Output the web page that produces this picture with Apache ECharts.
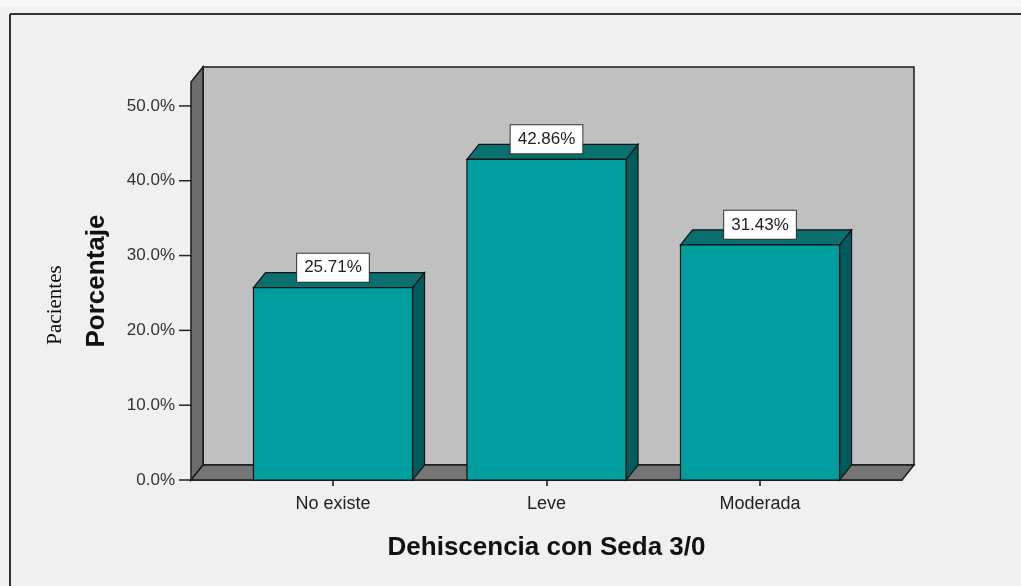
<!DOCTYPE html>
<html>
<head>
<meta charset="utf-8">
<script src="https://cdn.jsdelivr.net/npm/echarts@6/dist/echarts.min.js"></script>
<style>
html,body{margin:0;padding:0;background:#f0f0f0;}
#c{width:1021px;height:586px;}
</style>
</head>
<body>
<div id="c"></div>
<script>
const categories = ['No existe', 'Leve', 'Moderada'];
const values = [25.71, 42.86, 31.43];
const yTicks = [0, 10, 20, 30, 40, 50];
const xTitle = 'Dehiscencia con Seda 3/0';
const yTitle = 'Porcentaje';
const yTitle2 = 'Pacientes';

const DX = 12, DY = -15;
const HALF = 0.3725;
const XMIN = -0.665, XMAX = 2.665, YMAX = 53.2;
const FONT = 'Arial, "Liberation Sans", sans-serif';

const chart = echarts.init(document.getElementById('c'), null, {renderer: 'canvas'});

function wallsRender(params, api) {
  const a = api.coord([XMIN, 0]);
  const b = api.coord([XMAX, YMAX]);
  const x0 = a[0], y0 = a[1], x1 = b[0], y1 = b[1];
  const stroke = {stroke: '#1a1a1a', lineWidth: 1.5};
  const children = [
    {type: 'polygon', shape: {points: [[x0+DX, y1+DY], [x1+DX, y1+DY], [x1+DX, y0+DY], [x0+DX, y0+DY]]},
      style: Object.assign({fill: '#c0c0c0'}, stroke)},
    {type: 'polygon', shape: {points: [[x0, y1], [x0+DX, y1+DY], [x0+DX, y0+DY], [x0, y0]]},
      style: Object.assign({fill: '#6e6e6e'}, stroke)},
    {type: 'polygon', shape: {points: [[x0, y0], [x0+DX, y0+DY], [x1+DX, y0+DY], [x1, y0]]},
      style: Object.assign({fill: '#757575'}, stroke)}
  ];
  yTicks.forEach(t => {
    const p = api.coord([XMIN, t]);
    children.push({type: 'line', shape: {x1: p[0] - 12, y1: p[1], x2: p[0], y2: p[1]},
      style: {stroke: '#222', lineWidth: 1.5}});
  });
  return {type: 'group', children};
}

function barRender(params, api) {
  const i = api.value(0), v = api.value(1);
  const tl = api.coord([i - HALF, v]);
  const br = api.coord([i + HALF, 0]);
  const xl = tl[0], yt = tl[1], xr = br[0], yb = br[1];
  const stroke = {stroke: '#111', lineWidth: 1.2};
  return {
    type: 'group',
    children: [
      {type: 'polygon', shape: {points: [[xr, yt], [xr+DX, yt+DY], [xr+DX, yb+DY], [xr, yb]]},
        style: Object.assign({fill: '#005c5c'}, stroke)},
      {type: 'polygon', shape: {points: [[xl, yt], [xl+DX, yt+DY], [xr+DX, yt+DY], [xr, yt]]},
        style: Object.assign({fill: '#0a6f6f'}, stroke)},
      {type: 'rect', shape: {x: xl, y: yt, width: xr - xl, height: yb - yt},
        style: Object.assign({fill: '#009e9e'}, stroke)},
      {type: 'text', x: (xl + xr) / 2, y: yt - 20,
        style: {text: v.toFixed(2) + '%', fill: '#222', font: '17px ' + FONT,
          align: 'center', verticalAlign: 'middle', backgroundColor: '#ffffff',
          borderColor: '#333', borderWidth: 1, padding: [6, 7, 5, 7]}}
    ]
  };
}

chart.setOption({
  backgroundColor: '#f0f0f0',
  animation: false,
  grid: {left: 191, right: 119, top: 82, bottom: 106},
  xAxis: {
    type: 'value', min: XMIN, max: XMAX,
    splitLine: {show: false},
    axisLine: {show: true, lineStyle: {color: '#111', width: 1.5}},
    axisTick: {show: true, customValues: [0, 1, 2], length: 6, lineStyle: {color: '#111', width: 1.5}},
    axisLabel: {customValues: [0, 1, 2], formatter: v => categories[Math.round(v)] || '',
      color: '#222', fontSize: 18, fontFamily: FONT, margin: 15},
    name: xTitle, nameLocation: 'middle', nameGap: 55,
    nameTextStyle: {fontSize: 26, fontWeight: 'bold', color: '#111', fontFamily: FONT}
  },
  yAxis: {
    type: 'value', min: 0, max: YMAX,
    splitLine: {show: false},
    axisLine: {show: true, lineStyle: {color: '#111', width: 1.5}},
    axisTick: {show: false},
    axisLabel: {customValues: yTicks, formatter: v => v.toFixed(1) + '%',
      color: '#333', fontSize: 17, fontFamily: FONT, margin: 16},
    name: yTitle, nameLocation: 'middle', nameGap: 81, nameRotate: 90,
    nameTextStyle: {fontSize: 26, fontWeight: 'bold', color: '#111', fontFamily: FONT}
  },
  graphic: [
    {type: 'rect', shape: {x: 0, y: 0, width: 1021, height: 7}, style: {fill: '#f8f8f8'}, z: -1},
    {type: 'line', shape: {x1: 10, y1: 14, x2: 1021, y2: 14}, style: {stroke: '#333', lineWidth: 2}},
    {type: 'line', shape: {x1: 10, y1: 14, x2: 10, y2: 586}, style: {stroke: '#333', lineWidth: 2}},
    {type: 'text', x: 55, y: 305, rotation: Math.PI / 2,
      style: {text: yTitle2, fill: '#111', font: '21px "Liberation Serif", "DejaVu Serif", serif',
        align: 'center', verticalAlign: 'middle'}}
  ],
  series: [
    {type: 'custom', renderItem: wallsRender, data: [[0, 0]], clip: false, z: 1, silent: true},
    {type: 'custom', renderItem: barRender, clip: false, z: 2,
      data: values.map((v, i) => [i, v])}
  ]
});
</script>
</body>
</html>
